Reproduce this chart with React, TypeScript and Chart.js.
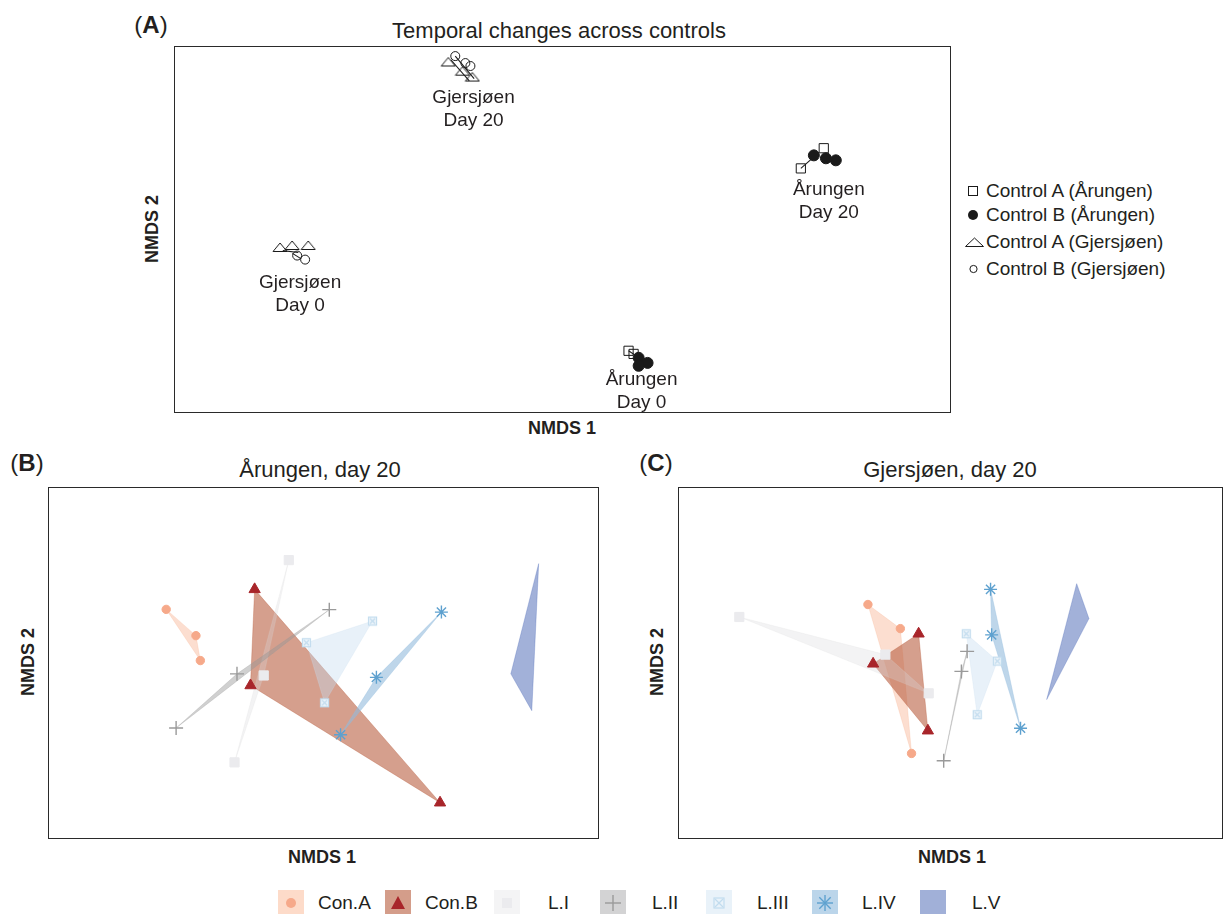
import React, { useEffect, useRef } from "react";
import { Chart, registerables } from "chart.js";

Chart.register(...registerables);

const FONT = '"Liberation Sans", Arial, Helvetica, sans-serif';
const INK = "#231f20";

type P = { x: number; y: number };

// ---------------- Panel A: temporal changes across controls ----------------
const ctrlAArungen: P[] = [
  { x: 0.34, y: -0.661 }, { x: 0.366, y: -0.678 },
  { x: 1.345, y: 0.443 }, { x: 1.227, y: 0.333 },
];
const ctrlBArungen: P[] = [
  { x: 0.392, y: -0.699 }, { x: 0.438, y: -0.727 }, { x: 0.392, y: -0.743 },
  { x: 1.294, y: 0.404 }, { x: 1.356, y: 0.388 }, { x: 1.407, y: 0.377 },
];
const ctrlAGjersjoen: P[] = [
  { x: -1.454, y: -0.098 }, { x: -1.392, y: -0.087 }, { x: -1.309, y: -0.087 },
  { x: -0.588, y: 0.913 }, { x: -0.515, y: 0.863 }, { x: -0.464, y: 0.831 },
];
const ctrlBGjersjoen: P[] = [
  { x: -1.366, y: -0.142 }, { x: -1.325, y: -0.164 },
  { x: -0.552, y: 0.945 }, { x: -0.5, y: 0.907 }, { x: -0.474, y: 0.891 },
];
const segmentsA: P[][] = [
  [{ x: -0.552, y: 0.945 }, { x: -0.455, y: 0.822 }],
  [{ x: -0.575, y: 0.925 }, { x: -0.48, y: 0.81 }],
  [{ x: -1.44, y: -0.115 }, { x: -1.36, y: -0.125 }],
  [{ x: -1.39, y: -0.13 }, { x: -1.345, y: -0.16 }],
  [{ x: 1.227, y: 0.333 }, { x: 1.315, y: 0.415 }],
  [{ x: 0.34, y: -0.661 }, { x: 0.402, y: -0.705 }],
];
const siteLabelText: string[][] = [
  ["Gjersjøen", "Day 20"],
  ["Gjersjøen", "Day 0"],
  ["Årungen", "Day 20"],
  ["Årungen", "Day 0"],
];
const siteLabelPos: P[] = [
  { x: -0.458, y: 0.716 },
  { x: -1.351, y: -0.29 },
  { x: 1.371, y: 0.219 },
  { x: 0.407, y: -0.82 },
];
const legendANames = [
  "Control A (Årungen)",
  "Control B (Årungen)",
  "Control A (Gjersjøen)",
  "Control B (Gjersjøen)",
];

// ---------------- Panels B & C: day 20 treatments ----------------
const groupNames = ["Con.A", "Con.B", "L.I", "L.II", "L.III", "L.IV", "L.V"];

const arConA: P[] = [{ x: -0.571, y: 0.198 }, { x: -0.463, y: 0.101 }, { x: -0.447, y: 0.009 }];
const arConB: P[] = [{ x: -0.25, y: 0.272 }, { x: -0.265, y: -0.083 }, { x: 0.423, y: -0.516 }];
const arL1: P[] = [{ x: -0.126, y: 0.38 }, { x: -0.217, y: -0.046 }, { x: -0.323, y: -0.367 }];
const arL2: P[] = [{ x: 0.021, y: 0.197 }, { x: -0.314, y: -0.04 }, { x: -0.535, y: -0.24 }];
const arL3: P[] = [{ x: -0.062, y: 0.075 }, { x: 0.178, y: 0.155 }, { x: 0.004, y: -0.147 }];
const arL4: P[] = [{ x: 0.428, y: 0.188 }, { x: 0.192, y: -0.053 }, { x: 0.062, y: -0.265 }];
const arL5: P[] = [{ x: 0.781, y: 0.367 }, { x: 0.68, y: -0.04 }, { x: 0.756, y: -0.176 }];

const gjConA: P[] = [{ x: -0.303, y: 0.216 }, { x: -0.184, y: 0.127 }, { x: -0.143, y: -0.334 }];
const gjConB: P[] = [{ x: -0.117, y: 0.108 }, { x: -0.284, y: -0.003 }, { x: -0.083, y: -0.25 }];
const gjL1: P[] = [{ x: -0.775, y: 0.17 }, { x: -0.239, y: 0.031 }, { x: -0.08, y: -0.112 }];
const gjL2: P[] = [{ x: 0.061, y: 0.043 }, { x: 0.04, y: -0.031 }, { x: -0.025, y: -0.361 }];
const gjL3: P[] = [{ x: 0.058, y: 0.108 }, { x: 0.172, y: 0.007 }, { x: 0.098, y: -0.191 }];
const gjL4: P[] = [{ x: 0.147, y: 0.272 }, { x: 0.151, y: 0.104 }, { x: 0.257, y: -0.241 }];
const gjL5: P[] = [{ x: 0.463, y: 0.293 }, { x: 0.508, y: 0.164 }, { x: 0.353, y: -0.135 }];

const arungenGroups = [arConA, arConB, arL1, arL2, arL3, arL4, arL5];
const gjersjoenGroups = [gjConA, gjConB, gjL1, gjL2, gjL3, gjL4, gjL5];

// styles
const hullColors = [
  "rgba(246,168,132,0.38)",
  "rgba(185,95,65,0.6)",
  "rgba(215,215,218,0.3)",
  "rgba(150,150,150,0.45)",
  "rgba(198,219,239,0.4)",
  "rgba(146,187,220,0.6)",
  "rgba(70,100,180,0.5)",
];
const markerColors = ["#f6a98a", "#a8252a", "#ebebee", "#9a9a9a", "#c2dcee", "#5ea1cf"];

function makeBoxX(stroke: string, fill: string, size: number) {
  const c = document.createElement("canvas");
  c.width = size;
  c.height = size;
  const g = c.getContext("2d")!;
  g.fillStyle = fill;
  g.fillRect(1, 1, size - 2, size - 2);
  g.strokeStyle = stroke;
  g.lineWidth = 1.2;
  g.strokeRect(1.5, 1.5, size - 3, size - 3);
  g.beginPath();
  g.moveTo(3, 3);
  g.lineTo(size - 3, size - 3);
  g.moveTo(size - 3, 3);
  g.lineTo(3, size - 3);
  g.stroke();
  return c;
}

function makeOpenTriangle(w: number, h: number) {
  const c = document.createElement("canvas");
  c.width = w + 2;
  c.height = h + 2;
  const g = c.getContext("2d")!;
  g.strokeStyle = "#1a1a1a";
  g.lineWidth = 1;
  g.beginPath();
  g.moveTo(1, h + 0.5);
  g.lineTo(w / 2 + 1, 1);
  g.lineTo(w + 1, h + 0.5);
  g.closePath();
  g.stroke();
  return c;
}

const boxPlugin = {
  id: "frameBox",
  afterDraw(chart: any) {
    const { ctx, chartArea } = chart;
    ctx.save();
    ctx.strokeStyle = "#2a2a2a";
    ctx.lineWidth = 1;
    ctx.strokeRect(chartArea.left + 0.5, chartArea.top + 0.5, chartArea.width - 1, chartArea.height - 1);
    ctx.restore();
  },
};

function makeLabelPlugin(texts: string[][], pos: P[]) {
  return {
    id: "siteLabels",
    afterDatasetsDraw(chart: any) {
      const { ctx, scales } = chart;
      ctx.save();
      ctx.font = `19px ${FONT}`;
      ctx.fillStyle = INK;
      ctx.textAlign = "center";
      ctx.textBaseline = "middle";
      texts.forEach((lines, i) => {
        const px = scales.x.getPixelForValue(pos[i].x);
        const py = scales.y.getPixelForValue(pos[i].y);
        lines.forEach((t, j) => ctx.fillText(t, px, py + j * 23));
      });
      ctx.restore();
    },
  };
}

function baseOptions(xr: number[], yr: number[]) {
  return {
    responsive: false,
    animation: false,
    events: [],
    layout: { padding: 0, autoPadding: false },
    plugins: { legend: { display: false }, tooltip: { enabled: false }, title: { display: false } },
    scales: {
      x: { type: "linear", display: false, min: xr[0], max: xr[1] },
      y: { type: "linear", display: false, min: yr[0], max: yr[1] },
    },
  };
}

function buildA() {
  const tri = makeOpenTriangle(14, 9);
  const datasets: any[] = [];
  segmentsA.forEach((s) =>
    datasets.push({ data: s, showLine: true, borderColor: "#1a1a1a", borderWidth: 1.1, pointRadius: 0, order: 10 })
  );
  datasets.push({
    data: ctrlAArungen, pointStyle: "rect", pointRadius: 6.5,
    backgroundColor: "rgba(0,0,0,0)", borderColor: "#1a1a1a", borderWidth: 1, order: 3,
  });
  datasets.push({
    data: ctrlBArungen, pointStyle: "circle", pointRadius: 5.5,
    backgroundColor: "#1a1a1a", borderColor: "#1a1a1a", borderWidth: 1, order: 1,
  });
  datasets.push({ data: ctrlAGjersjoen, pointStyle: tri, pointRadius: 5, order: 4 });
  datasets.push({
    data: ctrlBGjersjoen, pointStyle: "circle", pointRadius: 4.5,
    backgroundColor: "rgba(0,0,0,0)", borderColor: "#1a1a1a", borderWidth: 1, order: 2,
  });
  return {
    type: "scatter",
    data: { datasets },
    options: baseOptions([-2, 2], [-1, 1]),
    plugins: [boxPlugin, makeLabelPlugin(siteLabelText, siteLabelPos)],
  };
}

function buildGroups(groups: P[][]) {
  const boxX = makeBoxX("#c2dcee", "#eef5fb", 11);
  const styles: any[] = ["circle", "triangle", "rect", "cross", boxX, "star"];
  const radii = [4.2, 6.5, 6.5, 7, 5, 6.5];
  const widths = [1, 1, 1, 1.4, 1, 1.4];
  const datasets: any[] = [];
  groups.forEach((pts, i) => {
    datasets.push({
      label: groupNames[i] + " hull",
      data: [...pts, pts[0]],
      showLine: true,
      fill: "shape",
      backgroundColor: hullColors[i],
      borderColor: hullColors[i],
      borderWidth: 0.6,
      pointRadius: 0,
      order: 20 - i,
    });
    if (i < 6) {
      datasets.push({
        label: groupNames[i],
        data: pts,
        pointStyle: styles[i],
        pointRadius: radii[i],
        backgroundColor: markerColors[i],
        borderColor: markerColors[i],
        borderWidth: widths[i],
        order: 7 - i,
      });
    }
  });
  return {
    type: "scatter",
    data: { datasets },
    options: baseOptions([-1, 1], [-0.65, 0.65]),
    plugins: [boxPlugin],
  };
}

function ChartCanvas(props: { left: number; top: number; width: number; height: number; build: () => any }) {
  const ref = useRef<HTMLCanvasElement>(null);
  useEffect(() => {
    const chart = new Chart(ref.current as HTMLCanvasElement, props.build());
    return () => chart.destroy();
  }, []);
  return (
    <canvas
      ref={ref}
      width={props.width}
      height={props.height}
      style={{ position: "absolute", left: props.left, top: props.top, width: props.width, height: props.height }}
    />
  );
}

function Txt(props: { x: number; y: number; size: number; bold?: boolean; rotate?: boolean; children: any }) {
  return (
    <div
      style={{
        position: "absolute",
        left: props.x,
        top: props.y,
        transform: `translate(-50%,-50%)${props.rotate ? " rotate(-90deg)" : ""}`,
        whiteSpace: "nowrap",
        font: `${props.bold ? "bold " : ""}${props.size}px ${FONT}`,
        color: INK,
        lineHeight: 1.15,
      }}
    >
      {props.children}
    </div>
  );
}

function PanelLetter(props: { x: number; y: number; letter: string }) {
  return (
    <Txt x={props.x} y={props.y} size={24}>
      (<b>{props.letter}</b>)
    </Txt>
  );
}

const legendARowY = [191, 215, 242, 269];

function LegendA() {
  const sym = [
    <svg width="20" height="14" key="0"><rect x="3.5" y="2.5" width="9" height="9" fill="none" stroke="#1a1a1a" /></svg>,
    <svg width="20" height="14" key="1"><circle cx="8" cy="7" r="5" fill="#1a1a1a" /></svg>,
    <svg width="20" height="14" key="2"><polygon points="0.5,11.5 9.5,3 18.5,11.5" fill="none" stroke="#1a1a1a" /></svg>,
    <svg width="20" height="14" key="3"><circle cx="8.5" cy="7" r="3.6" fill="none" stroke="#1a1a1a" /></svg>,
  ];
  return (
    <>
      {legendANames.map((n, i) => (
        <React.Fragment key={n}>
          <div style={{ position: "absolute", left: 965, top: legendARowY[i] - 7 }}>{sym[i]}</div>
          <div
            style={{
              position: "absolute",
              left: 986,
              top: legendARowY[i],
              transform: "translateY(-50%)",
              font: `19px ${FONT}`,
              color: INK,
              whiteSpace: "nowrap",
              lineHeight: 1.15,
            }}
          >
            {n}
          </div>
        </React.Fragment>
      ))}
    </>
  );
}

const legendBoxLeft = [278, 385, 494, 600, 706, 812, 920];
const legendTextLeft = [318, 425, 548, 652, 757, 862, 972];
const legendBoxColors = ["#fddbc9", "#d49d8a", "#f4f4f5", "#d3d3d4", "#e9f2f9", "#bbd5ea", "#a1b0d8"];

function LegendBottom() {
  const S = 26;
  const c = S / 2;
  const syms = [
    <circle cx={c} cy={c} r="5" fill={markerColors[0]} />,
    <polygon points={`${c - 7},${c + 6} ${c},${c - 7} ${c + 7},${c + 6}`} fill={markerColors[1]} />,
    <rect x={c - 5} y={c - 5} width="10" height="10" fill="#ebebee" />,
    <g stroke="#9a9a9a" strokeWidth="1.4">
      <line x1={c - 8} y1={c} x2={c + 8} y2={c} />
      <line x1={c} y1={c - 8} x2={c} y2={c + 8} />
    </g>,
    <g stroke="#c2dcee" strokeWidth="1.2" fill="none">
      <rect x={c - 5} y={c - 5} width="10" height="10" />
      <line x1={c - 4} y1={c - 4} x2={c + 4} y2={c + 4} />
      <line x1={c + 4} y1={c - 4} x2={c - 4} y2={c + 4} />
    </g>,
    <g stroke="#5ea1cf" strokeWidth="1.4">
      <line x1={c - 8} y1={c} x2={c + 8} y2={c} />
      <line x1={c} y1={c - 8} x2={c} y2={c + 8} />
      <line x1={c - 5.7} y1={c - 5.7} x2={c + 5.7} y2={c + 5.7} />
      <line x1={c + 5.7} y1={c - 5.7} x2={c - 5.7} y2={c + 5.7} />
    </g>,
    null,
  ];
  return (
    <>
      {groupNames.map((n, i) => (
        <React.Fragment key={n}>
          <div
            style={{
              position: "absolute",
              left: legendBoxLeft[i],
              top: 903 - S / 2,
              width: S,
              height: S,
              background: legendBoxColors[i],
            }}
          >
            <svg width={S} height={S} style={{ display: "block" }}>{syms[i]}</svg>
          </div>
          <div
            style={{
              position: "absolute",
              left: legendTextLeft[i],
              top: 903,
              transform: "translateY(-50%)",
              font: `19px ${FONT}`,
              color: INK,
              whiteSpace: "nowrap",
              lineHeight: 1.15,
            }}
          >
            {n}
          </div>
        </React.Fragment>
      ))}
    </>
  );
}

export default function App() {
  return (
    <div
      style={{
        position: "absolute",
        left: 0,
        top: 0,
        width: 1223,
        height: 914,
        overflow: "hidden",
        background: "#fff",
        fontFamily: FONT,
      }}
    >
      {/* Panel A */}
      <PanelLetter x={151} y={25} letter="A" />
      <Txt x={559} y={31} size={22}>Temporal changes across controls</Txt>
      <ChartCanvas left={174} top={46} width={777} height={367} build={buildA} />
      <Txt x={562} y={428} size={18} bold>NMDS 1</Txt>
      <Txt x={152} y={229} size={18} bold rotate>NMDS 2</Txt>
      <LegendA />

      {/* Panel B */}
      <PanelLetter x={27} y={463} letter="B" />
      <Txt x={320} y={470} size={22}>Årungen, day 20</Txt>
      <ChartCanvas left={48} top={487} width={551} height={352} build={() => buildGroups(arungenGroups)} />
      <Txt x={322} y={857} size={18} bold>NMDS 1</Txt>
      <Txt x={28} y={662} size={18} bold rotate>NMDS 2</Txt>

      {/* Panel C */}
      <PanelLetter x={656} y={463} letter="C" />
      <Txt x={950} y={470} size={22}>Gjersjøen, day 20</Txt>
      <ChartCanvas left={678} top={487} width={545} height={352} build={() => buildGroups(gjersjoenGroups)} />
      <Txt x={952} y={857} size={18} bold>NMDS 1</Txt>
      <Txt x={657} y={662} size={18} bold rotate>NMDS 2</Txt>

      <LegendBottom />
    </div>
  );
}
